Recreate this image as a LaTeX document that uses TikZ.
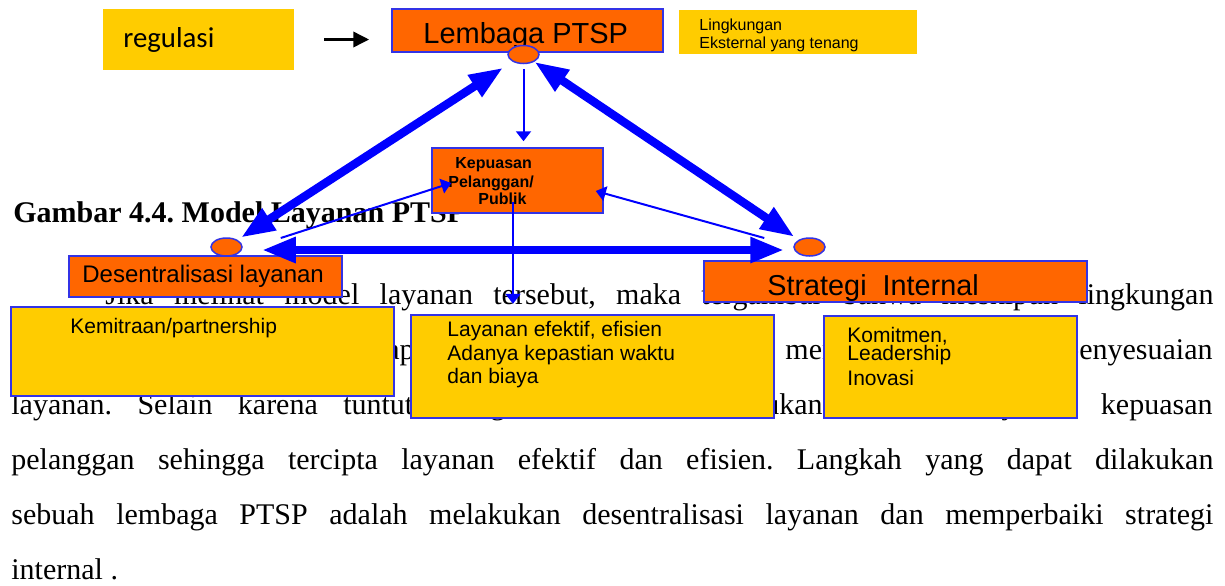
\documentclass[tikz,border=0pt]{standalone}
\usepackage{fontspec}
\setmainfont{Liberation Serif}
\newfontfamily\sansA{Liberation Sans}
\newfontfamily\sansC{Carlito}
\usetikzlibrary{shapes.geometric,arrows.meta,fit,calc}
\definecolor{boxorange}{RGB}{255,102,0}
\definecolor{boxyellow}{RGB}{255,204,0}
\definecolor{edgeblue}{RGB}{51,51,230}
\definecolor{linkblue}{RGB}{0,0,255}
\frenchspacing

\begin{document}
\begin{tikzpicture}[x=0.5pt,y=-0.5pt,
  orangebox/.style={draw=edgeblue, line width=0.75pt, fill=boxorange, inner sep=0pt},
  yellowbox/.style={draw=edgeblue, line width=0.75pt, fill=boxyellow, inner sep=0pt},
  plainbox/.style={fill=boxyellow, inner sep=0pt},
  knot/.style={ellipse, draw=edgeblue, line width=0.75pt, fill=boxorange,
    inner sep=0pt, minimum width=15.5pt, minimum height=9pt},
  para/.style={inner sep=0pt, anchor=base west, font=\fontsize{15pt}{18pt}\selectfont},
  paraend/.style={para, anchor=base east},
  heading/.style={inner sep=0pt, anchor=base west, font=\fontsize{15pt}{18pt}\selectfont\bfseries},
  lbl/.style={inner sep=0pt, anchor=base west, font=\sansA\fontsize{#1}{#1}\selectfont},
  boldlbl/.style={inner sep=0pt, anchor=base west, font=\sansA\bfseries\fontsize{#1}{#1}\selectfont},
  thicklink/.style={draw=linkblue, line width=4.2pt,
    {Triangle[length=17pt,width=12pt]}-{Triangle[length=17pt,width=12pt]}},
  thinlink/.style={draw=linkblue, line width=1pt, -{Triangle[length=5pt,width=7.5pt]}},
  blacklink/.style={draw=black, line width=1.8pt, -{Triangle[length=8pt,width=7.5pt]}}
]
\useasboundingbox (0,0) rectangle (1225,585);
\fill[white] (0,0) rectangle (1225,585);

% running text of the page (only the words left uncovered by the diagram)
\node[heading] (judul) at (13,222) {Gambar 4.4. Model Layanan PTSP};
\node[para] (line1) at (105,304) {\makebox[554pt][s]{Jika melihat model layanan tersebut, maka tergambar bahwa meskipun lingkungan}};
\node[paraend] (line2a) at (415,359) {tetap};
\node[para] (line2b) at (785,359) {mendorong};
\node[paraend] (line2c) at (1213,359) {penyesuaian};
\node[para] (line3a) at (11,414) {\makebox[279pt][s]{layanan. Selain karena tuntutan regulasi,}};
\node[paraend] (line3b) at (823,414) {dilakukan};
\node[para] (line3c) at (951,414) {menjamin};
\node[paraend] (line3d) at (1213,414) {kepuasan};
\node[para] (line4) at (11,469) {\makebox[601pt][s]{pelanggan sehingga tercipta layanan efektif dan efisien. Langkah yang dapat dilakukan}};
\node[para] (line5) at (11,524) {\makebox[601pt][s]{sebuah lembaga PTSP adalah melakukan desentralisasi layanan dan memperbaiki strategi}};
\node[para] (line6) at (11,579) {internal .};

% boxes
\node[plainbox, fit={(103,9) (294,70)}] (reg) {};
\node[orangebox, fit={(392,9) (663,52)}] (lem) {};
\node[plainbox, fit={(679,10) (917,54)}] (ling) {};
\node[orangebox, fit={(432,148) (603,213)}] (kep) {};
\node[orangebox, fit={(69,256) (342,297)}] (des) {};
\node[orangebox, fit={(704,261) (1087,302)}] (str) {};
\node[yellowbox, fit={(11,307) (394,396)}] (mitra) {};
\node[yellowbox, fit={(411,315) (774,418)}] (lay) {};
\node[yellowbox, fit={(824,316) (1077,418)}] (kom) {};

% box texts
\node[inner sep=0pt, anchor=base west, font=\sansC\fontsize{14.4pt}{14.4pt}\selectfont] (t-reg) at (123,47) {regulasi};
\node[lbl=14.5pt] (t-lem) at (423,43) {Lembaga PTSP};
\node[lbl=8pt] (t-ling1) at (699,30) {Lingkungan};
\node[lbl=8pt] (t-ling2) at (699,48) {Eksternal yang tenang};
\node[boldlbl=8pt] (t-kep1) at (455,168) {Kepuasan};
\node[boldlbl=8pt] (t-kep2) at (448,187) {Pelanggan/};
\node[boldlbl=8pt] (t-kep3) at (478,204) {Publik};
\node[lbl=12pt] (t-des) at (82,282) {Desentralisasi layanan};
\node[lbl=14.4pt] (t-str) at (767,295) {Strategi\ \ Internal};
\node[lbl=10.5pt] (t-mitra) at (70,333) {Kemitraan/partnership};
\node[lbl=10.5pt] (t-lay1) at (447,336) {Layanan efektif, efisien};
\node[lbl=10.5pt] (t-lay2) at (447,360) {Adanya kepastian waktu};
\node[lbl=10.5pt] (t-lay3) at (447,383) {dan biaya};
\node[lbl=10.5pt] (t-kom1) at (847,342) {Komitmen,};
\node[lbl=10.5pt] (t-kom2) at (847,360) {Leadership};
\node[lbl=10.5pt] (t-kom3) at (847,385) {Inovasi};

% junction knots
\node[knot] (elT) at (523.5,54.5) {};
\node[knot] (elL) at (226.5,247) {};
\node[knot] (elR) at (809.5,247) {};

% connectors
\draw[blacklink, shorten <=15pt, shorten >=11pt] (reg.east) -- (reg.east -| lem.west);
\draw[thicklink, shorten <=5.5pt, shorten >=2pt] (elT) -- (elL);
\draw[thicklink, shorten >=2.5pt] (elT) -- (elR);
\draw[thicklink, shorten <=9.5pt, shorten >=4.5pt] ([yshift=-1.5pt]elL.east) -- ([yshift=-1.5pt]elR.west);
\draw[thinlink, shorten <=2.5pt, shorten >=3pt] (elT.south) -- (elT.south |- kep.north);
\draw[thinlink] ($(elL.east)+(38,-9)$) -- ($(kep.west)+(20,2.5)$);
\draw[thinlink] ($(elR.west)+(-29,-9)$) -- ($(kep.east)+(-8,10.5)$);
\draw[thinlink] ($(kep.south)+(-4.5,-12)$) -- ++(0,102);
\end{tikzpicture}
\end{document}
